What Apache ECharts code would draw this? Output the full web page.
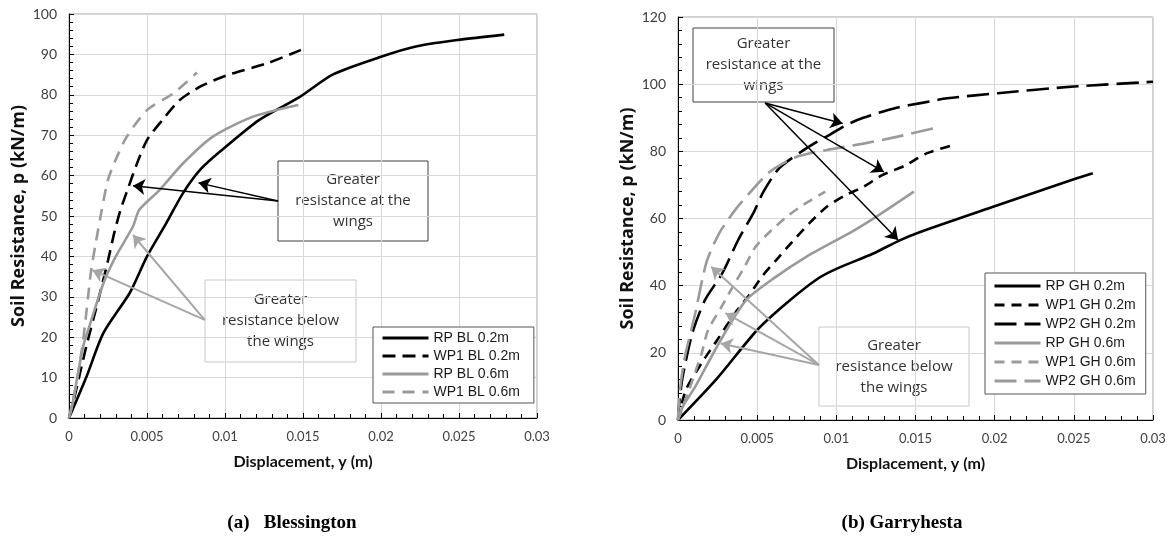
<!DOCTYPE html>
<html><head><meta charset="utf-8">
<script src="https://cdn.jsdelivr.net/npm/echarts@6/dist/echarts.min.js"></script>
<style>html,body{margin:0;padding:0;background:#fff}#c{width:1170px;height:539px}</style>
</head><body><div id="c"></div>
<script>
// ---------- Blessington (a) ----------
const rpBL02  = [[0,0],[0.0011,10],[0.0022,21],[0.0039,31],[0.005,40],[0.0062,48],[0.0073,55.6],[0.0084,61.4],[0.0097,66],[0.0122,73.8],[0.0148,79.5],[0.0169,85],[0.02,89.4],[0.0223,92],[0.025,93.6],[0.0279,94.9]];
const wp1BL02 = [[0,0],[0.0004,6],[0.0007,11],[0.0011,17.6],[0.0018,28],[0.0025,39],[0.0029,45.8],[0.0033,51.5],[0.0038,57],[0.0043,62.4],[0.005,68.8],[0.006,73.8],[0.0071,78.7],[0.0084,82],[0.0101,84.8],[0.0127,87.8],[0.0148,91],[0.0152,91.8]];
const rpBL06  = [[0,0],[0.0002,3],[0.0009,17.6],[0.0013,22.6],[0.0022,33.3],[0.003,40],[0.0041,47.4],[0.0045,51.5],[0.0058,56.4],[0.0073,63],[0.0092,69.6],[0.0118,74.6],[0.0147,77.5]];
const wp1BL06 = [[0,0],[0.00045,8],[0.0009,19],[0.0014,36],[0.0017,43],[0.0021,51.5],[0.0025,59],[0.003,64],[0.0037,69.6],[0.005,76.2],[0.0067,80.4],[0.0082,85.5]];

// ---------- Garryhesta (b) ----------
const rpGH02  = [[0,0],[0.0024,12],[0.005,26.8],[0.0069,35],[0.0088,42],[0.01,45],[0.0123,49.5],[0.014,53.5],[0.0153,56],[0.0199,63.5],[0.025,71.7],[0.0262,73.5]];
const wp1GH02 = [[0,0],[0.0005,9],[0.0015,17],[0.0025,24],[0.0036,31.8],[0.0045,37.2],[0.0053,42.7],[0.0062,47.6],[0.0072,53],[0.0083,58.6],[0.0094,63.5],[0.0106,67],[0.0117,69.4],[0.0129,72.9],[0.0144,75.9],[0.0157,79.4],[0.0175,82]];
const wp2GH02 = [[0,0],[0.0001,6],[0.0003,13],[0.0009,25.8],[0.0017,35.7],[0.0028,43.7],[0.0038,53.6],[0.0048,62],[0.0054,68],[0.0064,75],[0.0083,81.5],[0.0096,85],[0.0107,88],[0.0117,90],[0.0138,93],[0.0155,94.5],[0.017,95.8],[0.0202,97.3],[0.025,99.3],[0.03,100.7]];
const rpGH06  = [[0,0],[0.0003,4],[0.0011,10],[0.0026,23],[0.0043,35.7],[0.0062,42.7],[0.0081,48.6],[0.0111,56.4],[0.0128,61.4],[0.0149,68]];
const wp1GH06 = [[0,0],[0.0007,9],[0.0015,20],[0.0019,26.8],[0.0027,33.3],[0.0034,39.2],[0.0042,45.6],[0.0049,51.6],[0.0059,56.5],[0.007,61],[0.0079,64],[0.0093,68]];
const wp2GH06 = [[0,0],[0.0001,8],[0.0004,18],[0.0011,32],[0.0018,47],[0.0026,55.6],[0.0036,62.5],[0.0045,67.5],[0.0058,73.9],[0.0075,78.4],[0.0094,80.4],[0.0117,82.3],[0.0138,84.3],[0.0161,86.8]];

// ---------- annotation arrows (data coords: [from, to]) ----------
const arrowsAtBL    = [[[0.0134,53.7],[0.0041,57.5]], [[0.0134,53.7],[0.0083,58.2]]];
const arrowsBelowBL = [[[0.0087,24.3],[0.0015,36.6]], [[0.0087,24.3],[0.0041,45.3]]];
const arrowsAtGH    = [[[0.0055,94.4],[0.0104,88.3]], [[0.0055,94.4],[0.013,73.9]], [[0.0055,94.4],[0.0139,53.6]]];
const arrowsBelowGH = [[[0.0089,16.4],[0.0021,45.6]], [[0.0089,16.4],[0.003,31.8]], [[0.0089,16.4],[0.0027,22.8]]];

// ---------- axes ----------
const xMax = 0.03, xStep = 0.005;
const yMaxBL = 100, yStepBL = 10;
const yMaxGH = 120, yStepGH = 20;

const BLACK = '#000000', GREY = '#9a9a9a';
const FONT = 'Lato';

function mk(lines, color, width) {
  return lines.map(l => [
    {coord: l[0], lineStyle: {color: color, width: width, type: 'solid'}},
    {coord: l[1]}
  ]);
}
function markArrows(black, grey) {
  return {
    silent: true, symbol: ['none', 'arrow'], symbolSize: 12, animation: false,
    label: {show: false}, emphasis: {disabled: true},
    data: mk(black, '#000', 1.5).concat(mk(grey, '#a6a6a6', 2))
  };
}
function ser(name, data, color, dash, xi, extra) {
  const s = {
    name: name, type: 'line', data: data, xAxisIndex: xi, yAxisIndex: xi,
    showSymbol: false, symbol: 'none', smooth: 0.25,
    lineStyle: {color: color, width: 2.6, type: dash},
    itemStyle: {color: color}, z: 3
  };
  if (extra) s.markLine = extra;
  return s;
}

function xAxis(gi) {
  return {
    gridIndex: gi, type: 'value', min: 0, max: xMax, interval: xStep,
    name: 'Displacement, y (m)', nameLocation: 'middle', nameGap: 36,
    nameTextStyle: {fontFamily: FONT, fontWeight: 'bold', fontSize: 16, color: '#111'},
    axisLine: {show: true, lineStyle: {color: '#000', width: 1}},
    axisTick: {show: true, inside: true, length: 5, lineStyle: {color: '#000'}},
    minorTick: {show: true, splitNumber: 5, length: 4, lineStyle: {color: '#000'}},
    axisLabel: {fontFamily: FONT, fontSize: 13, color: '#404040', margin: 12,
      formatter: v => String(+v.toFixed(3))},
    splitLine: {show: true, lineStyle: {color: '#d9d9d9', width: 1}}
  };
}
function yAxis(gi, max, step) {
  return {
    gridIndex: gi, type: 'value', min: 0, max: max, interval: step,
    name: 'Soil Resistance, p (kN/m)', nameLocation: 'middle', nameGap: 41,
    nameTextStyle: {fontFamily: 'Open Sans', fontWeight: 'bold', fontSize: 18, color: '#111'},
    axisLine: {show: true, lineStyle: {color: '#000', width: 1}},
    axisTick: {show: true, inside: true, length: 5, lineStyle: {color: '#000'}},
    minorTick: {show: true, splitNumber: 5, length: 4, lineStyle: {color: '#000'}},
    axisLabel: {fontFamily: FONT, fontSize: 14, color: '#404040', margin: 12},
    splitLine: {show: true, lineStyle: {color: '#d9d9d9', width: 1}}
  };
}

function box(x, y, w, h, stroke, text) {
  return {
    type: 'group', z: 50,
    children: [
      {type: 'rect', shape: {x: x, y: y, width: w, height: h},
       style: {fill: '#fff', stroke: stroke, lineWidth: 1}},
      {type: 'text', x: x + w / 2, y: y + h / 2,
       style: {text: text, align: 'center', verticalAlign: 'middle',
               font: '15px "Open Sans"', lineHeight: 21, fill: '#333'}}
    ]
  };
}

const legendText = {fontFamily: 'Liberation Sans', fontSize: 14, color: '#1a1a1a'};
const legendItem = {opacity: 0, borderWidth: 0, color: 'rgba(0,0,0,0)'};
const legendLine = {width: 3};

const option = {
  animation: false,
  backgroundColor: '#ffffff',
  grid: [
    {left: 69, top: 14, width: 468, height: 404, show: true, borderColor: '#a0a0a0', borderWidth: 1, backgroundColor: 'transparent'},
    {left: 678, top: 17, width: 475, height: 403, show: true, borderColor: '#a0a0a0', borderWidth: 1, backgroundColor: 'transparent'}
  ],
  xAxis: [xAxis(0), xAxis(1)],
  yAxis: [yAxis(0, yMaxBL, yStepBL), yAxis(1, yMaxGH, yStepGH)],
  legend: [
    {data: ['RP BL 0.2m', 'WP1 BL 0.2m', 'RP BL 0.6m', 'WP1 BL 0.6m'],
     orient: 'vertical', left: 373, top: 327, itemWidth: 46, itemHeight: 14, itemGap: 4,
     padding: [4, 14, 4, 8], borderColor: '#555', borderWidth: 1, backgroundColor: '#fff',
     itemStyle: legendItem, lineStyle: legendLine, textStyle: legendText, selectedMode: false, z: 60},
    {data: ['RP GH 0.2m', 'WP1 GH 0.2m', 'WP2 GH 0.2m', 'RP GH 0.6m', 'WP1 GH 0.6m', 'WP2 GH 0.6m'],
     orient: 'vertical', left: 985, top: 273, itemWidth: 46, itemHeight: 16, itemGap: 5,
     padding: [6, 10, 6, 8], borderColor: '#555', borderWidth: 1, backgroundColor: '#fff',
     itemStyle: legendItem, lineStyle: legendLine, textStyle: legendText, selectedMode: false, z: 60}
  ],
  series: [
    ser('RP BL 0.2m', rpBL02, BLACK, 'solid', 0, markArrows(arrowsAtBL, arrowsBelowBL)),
    ser('WP1 BL 0.2m', wp1BL02, BLACK, [13, 7], 0),
    ser('RP BL 0.6m', rpBL06, GREY, 'solid', 0),
    ser('WP1 BL 0.6m', wp1BL06, GREY, [12, 8], 0),
    ser('RP GH 0.2m', rpGH02, BLACK, 'solid', 1, markArrows(arrowsAtGH, arrowsBelowGH)),
    ser('WP1 GH 0.2m', wp1GH02, BLACK, [10, 7], 1),
    ser('WP2 GH 0.2m', wp2GH02, BLACK, [22, 8], 1),
    ser('RP GH 0.6m', rpGH06, GREY, 'solid', 1),
    ser('WP1 GH 0.6m', wp1GH06, GREY, [10, 7], 1),
    ser('WP2 GH 0.6m', wp2GH06, GREY, [22, 8], 1)
  ],
  graphic: [
    box(278, 161, 150, 80, '#404040', 'Greater\nresistance at the\nwings'),
    box(205, 280, 151, 82, '#c8c8c8', 'Greater\nresistance below\nthe wings'),
    box(693, 28, 141, 74, '#404040', 'Greater\nresistance at the\nwings'),
    box(819, 327, 150, 79, '#c8c8c8', 'Greater\nresistance below\nthe wings'),
    {type: 'text', x: 292, y: 523, z: 50,
     style: {text: '(a)   Blessington', align: 'center', verticalAlign: 'middle',
             font: 'bold 19px "Liberation Serif"', fill: '#000'}},
    {type: 'text', x: 902, y: 523, z: 50,
     style: {text: '(b) Garryhesta', align: 'center', verticalAlign: 'middle',
             font: 'bold 19px "Liberation Serif"', fill: '#000'}}
  ]
};

const chart = echarts.init(document.getElementById('c'), null, {renderer: 'canvas'});
chart.setOption(option);
</script>
</body></html>
